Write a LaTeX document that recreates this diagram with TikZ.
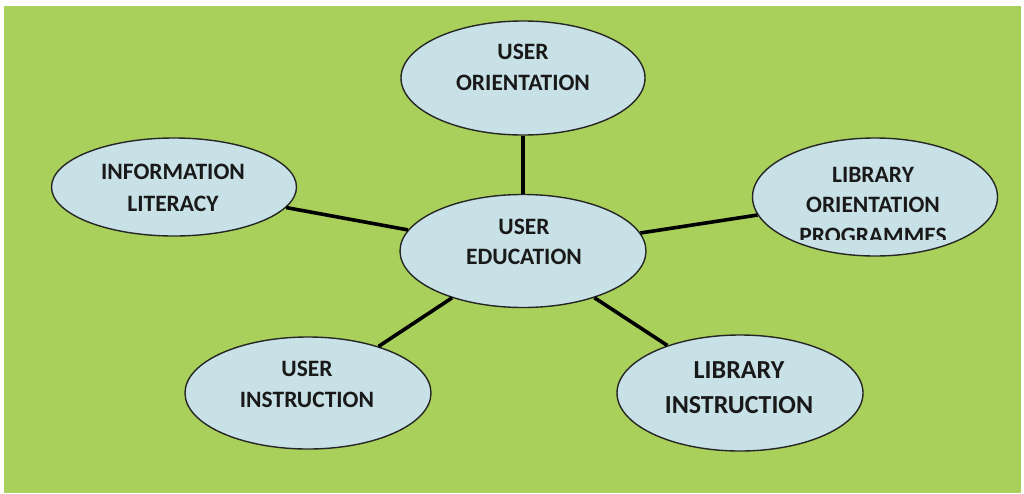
\documentclass[tikz,border=0pt]{standalone}
\usepackage{fontspec}
\setmainfont{Carlito}
\usetikzlibrary{shapes.geometric}

\definecolor{paneGreen}{RGB}{168,208,90}
\definecolor{bubbleBlue}{RGB}{200,225,230}

\tikzset{
  bubble/.style={ellipse, draw=black!85, line width=1.4pt, fill=bubbleBlue, inner sep=0pt},
  link/.style={line width=3.6pt, black},
  caption/.style={align=center, text=black!90, inner sep=0pt, font=\bfseries\fontsize{23.5}{30.5}\selectfont}
}

\begin{document}
\begin{tikzpicture}[x=1pt, y=-1pt]
  % Page and green panel
  \useasboundingbox (0,0) rectangle (1024,493);
  \fill[white] (0,0) rectangle (1024,493);
  \fill[paneGreen] (4,6) rectangle (1021,493);

  % Ellipses
  \node[bubble, minimum width=244, minimum height=114] (orient) at (523,78) {};
  \node[bubble, minimum width=245, minimum height=98] (info) at (174,187) {};
  \node[bubble, minimum width=246, minimum height=113] (edu) at (523,251) {};
  \node[bubble, minimum width=245, minimum height=118] (libor) at (875,197) {};
  \node[bubble, minimum width=246, minimum height=112] (uinstr) at (308,393) {};
  \node[bubble, minimum width=246, minimum height=116] (linstr) at (740,393) {};

  % Links to the centre
  \draw[link] (edu) -- (orient);
  \draw[link] (edu) -- (info);
  \draw[link] (edu) -- (libor);
  \draw[link] (edu) -- (uinstr);
  \draw[link] (edu) -- (linstr);

  % Texts
  \node[caption] (orientT) at (523,67.5) {USER\\ORIENTATION};
  \node[caption, font=\bfseries\fontsize{23.5}{31.5}\selectfont] (infoT) at (173,188) {INFORMATION\\LITERACY};
  \node[caption] (eduT) at (524,242) {USER\\EDUCATION};
  \node[caption] (uinstrT) at (307,384.5) {USER\\INSTRUCTION};
  \node[caption, font=\bfseries\fontsize{26}{35}\selectfont] (linstrT) at (739,387.5) {LIBRARY\\INSTRUCTION};
  % third line runs out of the box
  \begin{scope}
    \clip (760,150) rectangle (990,239.5);
    \node[caption] (liborT) at (873,205) {LIBRARY\\ORIENTATION\\PROGRAMMES};
  \end{scope}
\end{tikzpicture}
\end{document}
